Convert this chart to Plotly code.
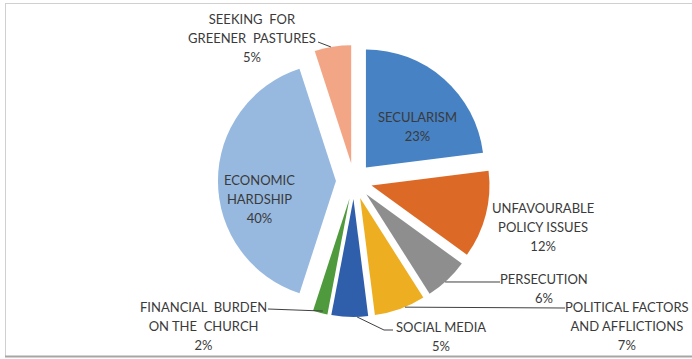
import math
import plotly.graph_objects as go

# ---- data ----
categories = ["SECULARISM", "UNFAVOURABLE POLICY ISSUES", "PERSECUTION",
              "POLITICAL FACTORS AND AFFLICTIONS", "SOCIAL MEDIA",
              "FINANCIAL BURDEN ON THE CHURCH", "ECONOMIC HARDSHIP",
              "SEEKING FOR GREENER PASTURES"]
label_lines = [["SECULARISM"], ["UNFAVOURABLE", "POLICY ISSUES"], ["PERSECUTION"],
               ["POLITICAL FACTORS", "AND AFFLICTIONS"], ["SOCIAL MEDIA"],
               ["FINANCIAL  BURDEN", "ON THE  CHURCH"], ["ECONOMIC", "HARDSHIP"],
               ["SEEKING  FOR", "GREENER  PASTURES"]]
values = [23, 12, 6, 7, 5, 2, 40, 5]
colors = ["#4682c4", "#dc6a26", "#8e8e8e", "#edae22", "#2f5eab",
          "#4f9a3d", "#97b9e0", "#f3a686"]

# ---- layout constants (pixels) ----
W, H = 692, 359
CX, CY = 354, 181
R = 118
PULL = 0.153
PULL_PX = PULL * R
TEXT_COLOR = "#3a3a3a"

def px2paper(x, y):
    return x / W, 1 - y / H

half_h = R * (1 + PULL) / H
half_w = 0.21
cxp, cyp = px2paper(CX, CY)

fig = go.Figure(go.Pie(
    labels=categories, values=values, sort=False, direction="clockwise",
    rotation=0, pull=[PULL] * len(values),
    marker=dict(colors=colors, line=dict(width=0)),
    textinfo="none", hoverinfo="label+percent", showlegend=False,
    domain=dict(x=[cxp - half_w, cxp + half_w], y=[cyp - half_h, cyp + half_h]),
))

total = sum(values)

def slice_point(i, t, rf):
    start = sum(values[:i]) / total * 360
    span = values[i] / total * 360
    mid = math.radians(start + span / 2)
    ang = math.radians(start + t * span)
    x = CX + PULL_PX * math.sin(mid) + rf * R * math.sin(ang)
    y = CY - PULL_PX * math.cos(mid) - rf * R * math.cos(ang)
    return x, y

def label_text(i):
    lines = label_lines[i] + [f"{values[i]}%"]
    return "<br>".join(f"<span style='font-size:13px'>{l}</span>" for l in lines)

# label centre positions (pixels)
label_pos = {0: (418, 126), 1: (543, 227), 2: (544, 288), 3: (627, 326),
             4: (441, 336), 5: (203, 326), 6: (259, 199), 7: (252, 38)}

annotations = []
for i, (x, y) in label_pos.items():
    xp, yp = px2paper(x, y)
    annotations.append(dict(x=xp, y=yp, xref="paper", yref="paper",
                            text=label_text(i), showarrow=False,
                            xanchor="center", yanchor="middle",
                            font=dict(family="Lato", size=14.6, color=TEXT_COLOR)))

# leader lines: (slice index, t, radial fraction, path of label-side points)
leaders = [
    (7, 0.45, 1.0, [(318, 42)]),
    (2, 0.56, 1.0, [(500, 282)]),
    (3, 0.40, 1.0, [(565, 308)]),
    (4, 0.30, 1.0, [(384, 330), (393, 330)]),
    (5, 0.35, 0.98, [(268, 309)]),
]
shapes = []
for i, t, rf, pts in leaders:
    x0, y0 = slice_point(i, t, rf)
    path = [(x0, y0)] + pts
    for (a, b), (c, d) in zip(path[:-1], path[1:]):
        pa, pb = px2paper(a, b)
        pc, pd = px2paper(c, d)
        shapes.append(dict(type="line", xref="paper", yref="paper",
                           x0=pa, y0=pb, x1=pc, y1=pd,
                           line=dict(color="#404040", width=1)))

# frame
def frame_line(x0, y0, x1, y1, color, width):
    a, b = px2paper(x0, y0)
    c, d = px2paper(x1, y1)
    shapes.append(dict(type="line", xref="paper", yref="paper", x0=a, y0=b,
                       x1=c, y1=d, line=dict(color=color, width=width)))

frame_line(5, 3.5, W + 5, 3.5, "#d0d0d0", 1)
frame_line(5.5, 3, 5.5, 356, "#d0d0d0", 1)
frame_line(5, 356.5, W + 5, 356.5, "#a6a6a6", 2)

fig.update_layout(
    width=W, height=H, margin=dict(l=0, r=0, t=0, b=0),
    paper_bgcolor="white", plot_bgcolor="white",
    annotations=annotations, shapes=shapes,
    font=dict(family="Lato", color=TEXT_COLOR),
)

fig.write_html("out.html")
